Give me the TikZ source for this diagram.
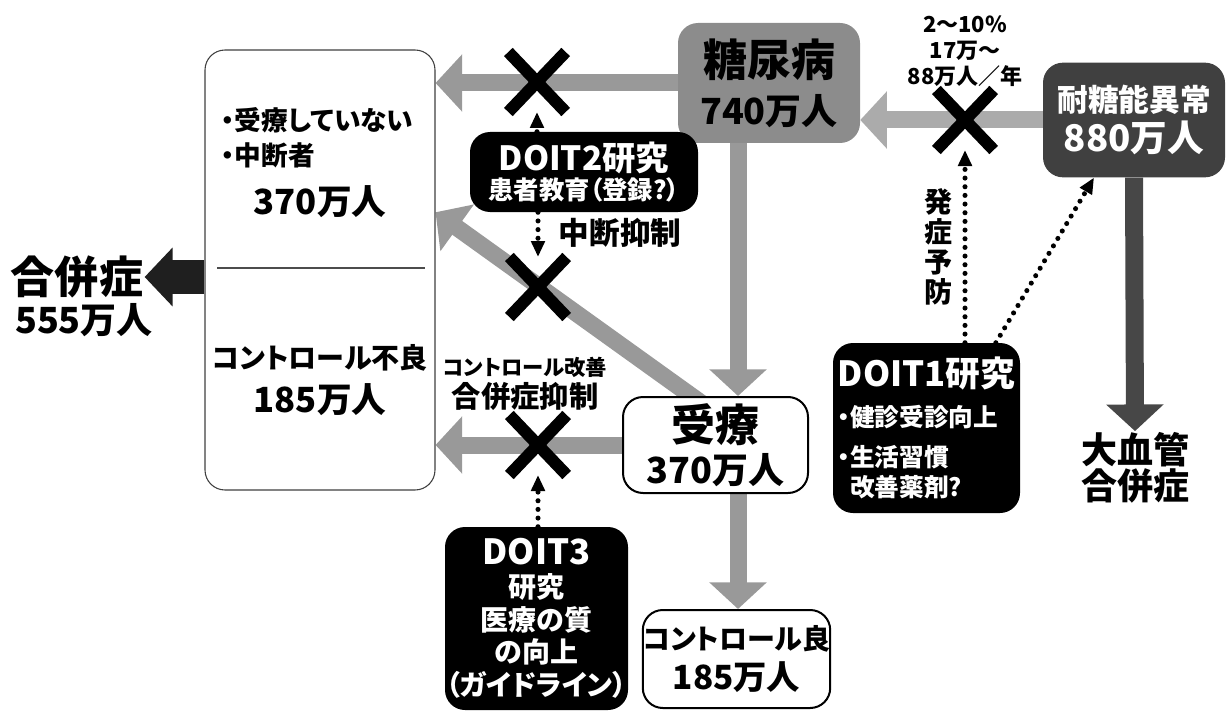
\documentclass[tikz,border=0pt]{standalone}
\usepackage{fontspec}
\setmainfont{Noto Sans CJK JP}[RawFeature=+palt]
\usetikzlibrary{arrows.meta,shapes.misc,calc,backgrounds}
\newcommand\jfs[2]{\fontsize{#1}{#2}\selectfont}

\tikzset{
  roundbox/.style={rounded corners=15pt, inner sep=0pt, align=center},
  whitebox/.style={roundbox, draw=black, line width=1.5pt, fill=white},
  graybox/.style={roundbox, fill=black!45},
  darkbox/.style={roundbox, fill=black!75, text=white},
  blackbox/.style={roundbox, fill=black, text=white},
  lbl/.style={inner sep=1pt},
  grayarr/.style={draw=black!40, line width=12.75pt, -{Triangle[width=42pt,length=20pt]}},
  darkarr/.style={draw=black!72, line width=13.5pt, -{Triangle[width=42pt,length=20pt]}},
  blackarr/.style={draw=black!88, line width=25pt, -{Triangle[width=43pt,length=21pt]}},
  dotarr/.style={line width=3.8pt, dash pattern=on 0pt off 6.5pt, line cap=round, -{Triangle[width=10pt,length=12pt]}},
  stopx/.style={cross out, draw=black, line width=9pt, minimum width=34pt, minimum height=36pt, inner sep=0pt},
}

\begin{document}
\begin{tikzpicture}[x=0.75pt,y=0.75pt,yscale=-1,xscale=1]
\useasboundingbox (0,0) rectangle (1230,713);

\node[whitebox, draw=black!75, line width=0.8pt, minimum width=172.5pt, minimum height=330pt] (outer) at (320,270) {};
\draw[black!70, line width=0.8pt] (217,268) -- (425,268);
\node[lbl, anchor=west, font={\bfseries\jfs{20pt}{24pt}}] (nocare) at (220,120) {・受療していない};
\node[lbl, anchor=west, font={\bfseries\jfs{20pt}{24pt}}] (quit) at (220,155) {・中断者};
\node[lbl, font={\bfseries\jfs{26pt}{28pt}}] (n370) at (320,202) {370万人};
\node[lbl, font={\bfseries\jfs{21pt}{24pt}}] (poor) at (320,358) {コントロール不良};
\node[lbl, font={\bfseries\jfs{26pt}{28pt}}] (n185) at (320,400) {185万人};

\node[lbl, font={\bfseries\jfs{33pt}{36pt}}] (comp) at (77,277) {合併症};
\node[lbl, font={\bfseries\jfs{27pt}{30pt}}] (comp2) at (84,320) {555万人};

\node[graybox, font={\bfseries\jfs{27pt}{36pt}}, minimum width=136.5pt, minimum height=90pt] (dm) at (769,83)
  {\jfs{33pt}{36pt}糖尿病\\740万人};
\node[darkbox, font={\bfseries\jfs{27.5pt}{30pt}}, minimum width=136.5pt, minimum height=86pt] (igt) at (1134,120)
  {\jfs{23pt}{30pt}耐糖能異常\\880万人};
\node[blackbox, font={\bfseries\jfs{19pt}{22pt}}, minimum width=171pt, minimum height=60pt] (doit2) at (584,172)
  {\jfs{25pt}{22pt}DOIT2研究\\患者教育（登録?）};
\node[whitebox, font={\bfseries\jfs{27pt}{31.5pt}}, minimum width=138.75pt, minimum height=72pt] (care) at (715.5,445)
  {\jfs{33pt}{31.5pt}受療\\370万人};
\node[whitebox, font={\bfseries\jfs{25pt}{30pt}}, minimum width=137.25pt, minimum height=73.5pt] (good) at (736.5,659)
  {\jfs{21pt}{30pt}コントロール良\\185万人};
\node[blackbox, font={\bfseries\jfs{21pt}{24.5pt}}, minimum width=137.25pt, minimum height=137.25pt] (doit3) at (536.5,618.5)
  {\jfs{26pt}{24.5pt}DOIT3\\研究\\医療の質\\の向上\\（ガイドライン）};
\node[blackbox, align=left, font={\bfseries\jfs{18.5pt}{22.5pt}}, minimum width=140.25pt, minimum height=127.5pt] (doit1) at (926.5,428)
  {\jfs{26pt}{22.5pt}DOIT1研究\\[7.5pt]・健診受診向上\\[7.5pt]・生活習慣\\\phantom{・}改善薬剤?};

\node[lbl, align=center, font={\bfseries\jfs{27pt}{25pt}}] (mv) at (1135,468) {大血管\\合併症};
\node[lbl, align=center, font={\bfseries\jfs{16.5pt}{19.5pt}}] (rate) at (965,51) {2〜10\%\\17万〜\\88万人／年};
\node[lbl, align=center, font={\bfseries\jfs{21pt}{22.5pt}}] (prev) at (938,247) {発\\症\\予\\防};
\node[lbl, font={\bfseries\jfs{23pt}{26pt}}] (stopq) at (620,233) {中断抑制};
\node[lbl, align=center, font={\bfseries\jfs{22pt}{24pt}}] (improve) at (525,384) {\jfs{16pt}{24pt}コントロール改善\\合併症抑制};

\coordinate (vline) at (738,0);
\coordinate (diag) at ([xshift=-18pt]care.north);

\node[stopx] (x1) at (537,82) {};
\node[stopx] (x2) at (538,287) {};
\node[stopx] (x3) at (538,445) {};
\node[stopx] (x4) at (965,120) {};

\begin{scope}[on background layer]
\draw[grayarr] (dm.west) -- (dm.west -| outer.east);
\draw[grayarr, draw=black!33] (igt.west) -- (igt.west -| dm.east);
\draw[grayarr] (dm.south -| vline) -- (care.north -| vline);
\draw[grayarr] ($(diag)!-12pt!(outer.east |- doit2.south)$) -- (outer.east |- doit2.south);
\draw[grayarr] (care.west) -- (care.west -| outer.east);
\draw[grayarr] (care.south -| vline) -- (good.north -| vline);
\draw[darkarr] (igt.south) -- (mv.north);
\draw[blackarr] (outer.west |- comp.east) -- (comp.east);
\end{scope}

\draw[dotarr] (doit2.north -| x1) -- (x1.south);
\draw[dotarr] (doit2.south -| x2) -- (x2.north);
\draw[dotarr] (doit3.north -| x3) -- (x3.south);
\draw[dotarr] (doit1.north -| x4) -- (x4.south);
\draw[dotarr] ([xshift=52pt]doit1.north) -- ([xshift=-30pt]igt.south);
\end{tikzpicture}
\end{document}
